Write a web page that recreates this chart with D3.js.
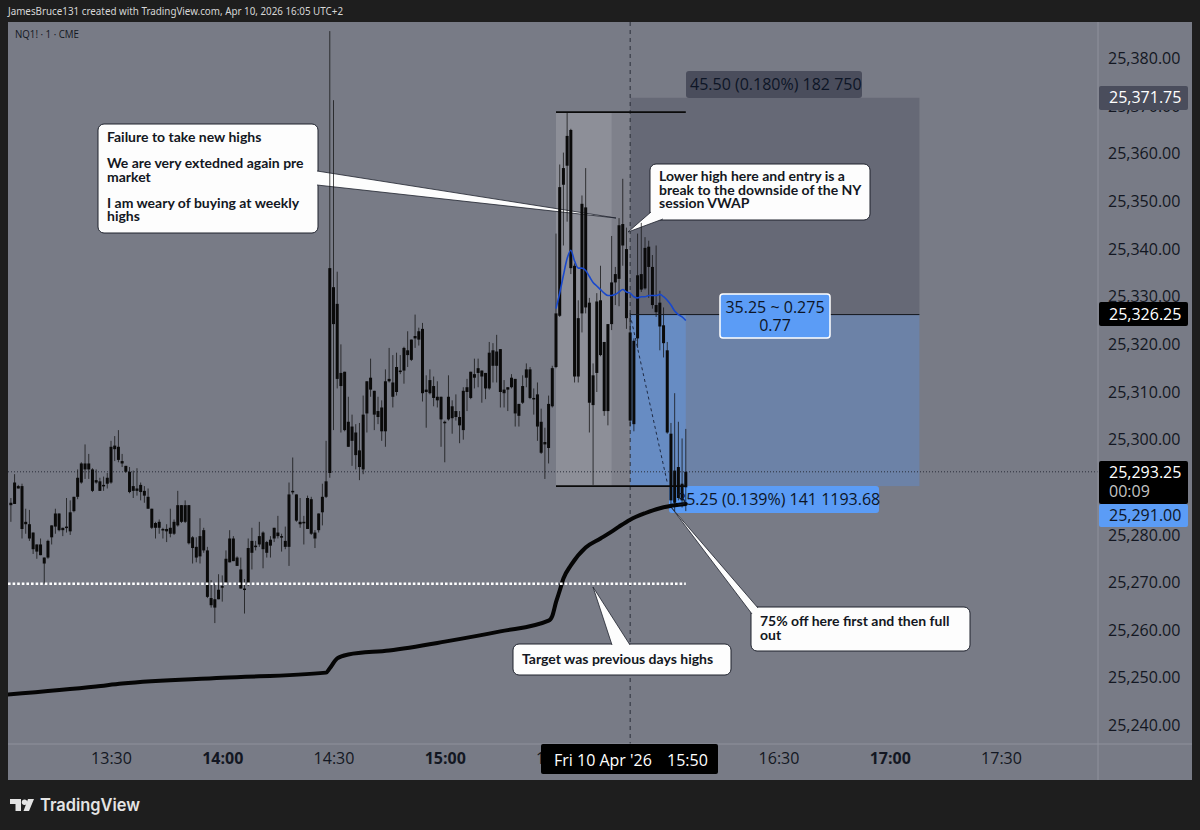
<!DOCTYPE html>
<html>
<head>
<meta charset="utf-8">
<title>NQ1! 1 CME</title>
<script src="https://cdn.jsdelivr.net/npm/d3@7"></script>
<style>
  body { margin: 0; background: #1e1e1e; }
  svg { display: block; }
  text { font-family: "Open Sans", sans-serif; }
  .note text { font-family: Lato, sans-serif; font-weight: 700; font-size: 14px; fill: #131722; }
</style>
</head>
<body>
<script>
const firstCandle = 13 * 60 + 3;

const bodyTops = [
  25286.75,25291,25290.25,25290.25,25282.75,25282.25,25280.5,25278,25278,25275.25,
  25278.75,25282,25284.5,25284.5,25281.5,25281.75,25284.75,25288,25292,25295,
  25295,25295,25293.75,25291.5,25291.25,25290.5,25292,25298.5,25298.75,25298.5,
  25295.5,25294.5,25293.25,25290.25,25289.75,25290.5,25289.25,25288,25285.5,25282.5,
  25282.75,25281.25,25281.25,25281.5,25282.75,25286.25,25286.25,25286.25,25286.25,25279.5,
  25277.5,25279.75,25281,25276.75,25266.75,25266.5,25268.5,25269.25,25275,25279.25,
  25279.25,25275.25,25272.75,25268.75,25277.25,25278.75,25277.75,25279.75,25280.5,25278.5,
  25279,25281.5,25280.5,25279.75,25278.75,25288.5,25289.25,25288.5,25282.75,25282.75,
  25287.75,25287.5,25280.5,25284.5,25288,25291.25,
  25336,25332,25328.5,25314,25314.25,25303.75,25302.75,25301.5,25297.75,25305.25,
  25312.25,25313,25310.25,25306,25306.75,25312.25,25312.75,25312,25315.25,25314.5,
  25319.25,25318.75,25321,25321.75,25322.75,25323.25,25310.5,25312.5,25311.25,25309,
  25309,25303.75,25309,25307,25306,25304.75,25310.25,25311,25314.25,25313.75,
  25315,25314.5,25314,25318.25,25318.75,25318.5,25319,25310.5,25311,25313,
  25312.75,25307.5,25311.25,25314.75,25314.75,25308.75,25309.5,25303.75,25299.5,25307.5,25315,
  25326.5,25353,25357,25363.75,25365,25336.5,25325.5,25349.5,25348.75,25328.75,
  25313.5,25329,25329.25,25320.5,25324.25,25333,25334.75,25345,25345.25,25340,
  25322.5,25320.75,25334.5,25334.75,25340.25,25340.5,25336.25,25328.25,25328.75,25324,
  25318.75,25301.25,25293.5,25294.25,25290.75,25293.25
];
const bodyBottoms = [
  25286.25,25286.5,25289.75,25281.25,25282.25,25279.25,25277,25276.5,25275.75,25274,
  25275.25,25279.5,25281.75,25281,25281,25281.5,25280.75,25285,25288,25291,
  25293.75,25293.75,25289.25,25291,25289.25,25290.25,25290.75,25291,25298,25295.75,
  25295,25293.25,25289,25289.25,25289.25,25289,25288.25,25285.5,25281.5,25281.5,
  25281.5,25281,25280.75,25280.25,25280.25,25282,25282.75,25282.75,25278.25,25277.25,
  25275.25,25275.5,25276.75,25267,25265.25,25264.75,25266.5,25269,25270,25274.25,
  25274.5,25273.5,25268.75,25268.5,25269.75,25276.25,25277.5,25278,25277,25276.25,
  25277.75,25279.25,25279.75,25279.5,25277.5,25277.5,25289,25283,25282.25,25282.5,
  25281.25,25280.25,25279.25,25281,25284.75,25288,
  25293,25324.25,25312.75,25311.25,25302,25298.5,25299.75,25296.75,25294.25,25293.75,
  25305.5,25310.5,25305.25,25304.75,25301.75,25301.75,25312.25,25309,25310,25314.25,
  25314.5,25317.75,25316.75,25321.25,25321,25309.75,25310,25309.75,25308.75,25308.25,
  25304.25,25303.5,25304.25,25304.5,25304.75,25303,25302,25310,25308.75,25313,
  25314,25313.25,25310.75,25310.75,25315.5,25315.5,25310,25309.75,25310.5,25311,
  25305.5,25305,25307.75,25313,25308.75,25308.5,25302.75,25297.25,25299,25298.25,25307,
  25315.25,25326,25353.5,25357.5,25336,25313.25,25313.25,25326.5,25327.75,25307.75,
  25307.25,25314,25317.75,25306,25306,25324.25,25333,25333.75,25340.75,25325.5,
  25304,25303.25,25321.25,25331.5,25331.75,25336.25,25328.25,25326.75,25323.75,25320.25,
  25301.5,25287.25,25286.75,25287.75,25287.25,25290
];
const wickHighs = [
  25287.75,25292.75,25290.5,25290.75,25285.5,25285.25,25280.5,25278,25279.25,25275.25,
  25279,25282,25285.5,25284.5,25281.5,25287.75,25287.25,25288,25293.75,25295.25,
  25299,25297,25294,25293.75,25292,25292.25,25293,25299.75,25300.75,25302,
  25297,25294.5,25294.25,25293.5,25294,25291,25290.25,25289.75,25285.5,25282.75,
  25283.25,25281.5,25282.25,25285.5,25283.25,25289.25,25286.25,25287.25,25286.25,25279.75,
  25279.5,25283.5,25281.5,25277.5,25270.5,25269.75,25271.75,25271.5,25276.75,25281,
  25279.75,25275.5,25275.25,25270.75,25279.25,25281.5,25278.75,25282.75,25280.75,25278.75,
  25279.75,25281.5,25284,25280.25,25281.75,25291,25296.25,25288.5,25287.75,25284,
  25288.25,25288,25281,25284.5,25290.75,25299.75,
  25385.75,25371.25,25335.25,25320,25314.25,25309,25305.25,25303.25,25303.5,25309.25,
  25312.25,25317,25310.25,25309,25308.25,25314.75,25319.25,25317.75,25318.25,25317.75,
  25319.5,25322.75,25321,25326.25,25323.5,25324.5,25313.5,25314.75,25313.25,25312.25,
  25309,25304,25313.5,25308.25,25309.5,25306,25311,25312.75,25314.25,25317,
  25317,25314.5,25314,25320.5,25320.25,25322,25319,25312.5,25311,25313.75,
  25312.75,25307.5,25313.5,25316,25315.25,25310.75,25312,25306.5,25302.5,25309.25,25315.5,
  25343.25,25357.75,25360.25,25368.75,25365.25,25337,25329.25,25351.25,25357,25329.75,
  25316,25330.75,25336.5,25320.5,25324.25,25342.75,25336.25,25346.5,25354.75,25344.5,
  25326.5,25321.25,25343.25,25345.5,25342.5,25341.75,25338.75,25340.75,25331.25,25327.75,
  25320.5,25303.5,25309.75,25303.75,25300.25,25302.25
];
const wickLows = [
  25282.75,25286.5,25289.75,25279.25,25280.25,25278.75,25276,25275,25275.75,25269.75,
  25275,25278,25280.25,25280.75,25279.75,25280.5,25280,25284.75,25287.5,25290.75,
  25291.75,25291.75,25289,25290.75,25289.25,25289.25,25289.75,25290.75,25295.5,25295.25,
  25294.25,25293,25288.75,25287.75,25288.25,25287.25,25286.75,25285.5,25281.25,25279.25,
  25280.25,25279.25,25278.5,25279.5,25280,25281.75,25282.5,25282.5,25278,25274,
  25274.25,25274,25276.25,25266.75,25264.75,25261.5,25266.5,25266,25270,25274.25,
  25274.5,25273.5,25268.75,25263.5,25269.25,25272.75,25276.75,25277.5,25273,25275.25,
  25275.25,25278.5,25279.25,25276.5,25277,25273.5,25288.5,25282.75,25281.5,25278,
  25281.25,25280,25277.25,25280.5,25282,25287.75,
  25292,25302,25310.75,25301.5,25301.75,25298.5,25294.5,25293.75,25291.5,25292.75,
  25301.5,25309,25302,25303.25,25299.75,25298.5,25312,25306.75,25309.25,25313.75,
  25311.75,25315.25,25316.5,25319.25,25319.75,25308,25302.5,25309.5,25307,25306.75,
  25298.5,25295.25,25304,25301.25,25304,25299.25,25300,25306,25308.5,25310.75,
  25311,25307.75,25308.5,25310.5,25312,25312,25306.75,25306.75,25306,25310.75,
  25302.75,25302.75,25307.5,25311,25308.5,25305.25,25299.75,25297,25291.75,25295,25306.75,
  25315,25325.75,25340.75,25345.75,25334.75,25312,25312,25322.5,25326.5,25301.5,
  25290.5,25310,25317.5,25305,25303,25323,25328.25,25328,25336.5,25323.25,
  25302.75,25301.75,25319.25,25331,25331.5,25329.75,25327.5,25325.75,25318.75,25317.25,
  25301.25,25285.75,25285,25287.25,25285.75,25285
];

// NY session VWAP, one reading per minute from 15:30
const vwapStart = 15 * 60 + 30;
const vwapValues = [
  25327.5,25330.75,25334.5,25338,25339.75,25337.5,25336,25336,25335.5,25334.25,
  25333,25332.25,25331.5,25330.75,25330.25,25330.25,25330.5,25331,25331.5,25331,
  25330.75,25330,25329.75,25330,25330,25330.25,25330.25,25330.25,25330.5,25330,
  25329.25,25328.25,25327,25326.25,25325.75,25325
];

// thick black anchored line
const anchorTimes = ["13:02","13:26","13:33","14:00","14:28","14:29","14:31","14:34","14:45","15:00","15:15","15:28","15:29","15:30","15:31","15:32","15:34","15:38","15:42","15:45","15:47","15:50","15:54","15:59","16:05"];
const anchorValues = [25246.5,25248.2,25248.8,25250,25251.1,25252,25254.1,25254.9,25255.75,25257.6,25259.75,25262,25263,25265.9,25268.3,25270.85,25273.6,25277.35,25279.25,25280.7,25281.75,25283.2,25284.55,25285.8,25286.5];

const priceTicks = [25240,25250,25260,25270,25280,25290,25300,25310,25320,25330,25340,25350,25360,25370,25380];
const timeTicks = ["13:30","14:00","14:30","15:00","15:30","16:00","16:30","17:00","17:30"];

const lastPrice = 25293.25, prevHigh = 25269.75;
const entryPrice = 25326.25, stopPrice = 25371.75, targetPrice = 25291;
const swingHigh = 25368.75, swingLow = 25290.25;

const width = 1200, height = 830;
const panel = {left: 8, top: 22, right: 1192, bottom: 780};
const plotRight = 1098, plotBottom = 744;

const toMin = s => { const [h, m] = s.split(":"); return +h * 60 + +m; };

const x = d3.scaleLinear().domain([toMin("13:30"), toMin("17:30")]).range([111, 1001]);
const y = d3.scaleLinear().domain([25240, 25380]).range([725.5, 58.5]);

const svg = d3.select("body").append("svg")
  .attr("width", width)
  .attr("height", height)
  .attr("viewBox", `0 0 ${width} ${height}`);

svg.append("rect").attr("width", width).attr("height", height).attr("fill", "#1e1e1e");

svg.append("text")
  .attr("x", 8).attr("y", 15)
  .attr("textLength", 335).attr("lengthAdjust", "spacingAndGlyphs")
  .style("font-family", "'Noto Sans', sans-serif")
  .style("font-size", "11.5px")
  .attr("fill", "#d6d6d6")
  .text("JamesBruce131 created with TradingView.com, Apr 10, 2026 16:05 UTC+2");

svg.append("rect")
  .attr("x", panel.left).attr("y", panel.top)
  .attr("width", panel.right - panel.left).attr("height", panel.bottom - panel.top)
  .attr("fill", "#787b86");

svg.append("clipPath").attr("id", "plot")
  .append("rect")
  .attr("x", panel.left).attr("y", panel.top)
  .attr("width", plotRight - panel.left).attr("height", plotBottom - panel.top);

const g = svg.append("g").attr("clip-path", "url(#plot)");

// zones of the position tool and the highlighted range
function zone(t0, t1, p0, p1, fill) {
  g.append("rect")
    .attr("x", x(toMin(t0))).attr("width", x(toMin(t1)) - x(toMin(t0)))
    .attr("y", y(p0)).attr("height", y(p1) - y(p0))
    .attr("fill", fill);
}
zone("15:50", "17:08", stopPrice, entryPrice, "#666976");
zone("15:50", "17:08", entryPrice, swingLow, "#6c82a7");
zone("15:30", "15:50", swingHigh, swingLow, "#7f818b");
zone("15:30", "15:45", swingHigh, swingLow, "#8d8f98");
zone("15:50", "16:05", entryPrice, swingLow, "#678cc3");

// 45.50 and 35.25 label backgrounds sit under the candles
g.append("rect").attr("x", 686).attr("y", 71).attr("width", 176).attr("height", 27).attr("rx", 3).attr("fill", "#4a4d5c");
g.append("rect").attr("x", 669).attr("y", y(swingLow)).attr("width", 210).attr("height", 27).attr("rx", 3).attr("fill", "#5b9cf6");

// crosshair and last price line
g.append("line")
  .attr("x1", x(toMin("15:50"))).attr("x2", x(toMin("15:50")))
  .attr("y1", panel.top).attr("y2", plotBottom)
  .attr("stroke", "#2a2e39").attr("stroke-width", 1).attr("stroke-dasharray", "4 4");
g.append("line")
  .attr("x1", panel.left).attr("x2", plotRight)
  .attr("y1", y(lastPrice)).attr("y2", y(lastPrice))
  .attr("stroke", "#2a2e39").attr("stroke-width", 1).attr("stroke-dasharray", "1 2");

// callouts
const notes = [
  {box: [98, 124, 220, 109], tail: [[317, 171], [616, 218], [317, 185]], lines: ["Failure to take new highs", "", "We are very extedned again pre", "market", "", "I am weary of buying at weekly", "highs"], tx: 107, ty: 142, lh: 13.2},
  {box: [650, 164, 220, 56], tail: [[651, 212], [628, 232], [663, 219]], lines: ["Lower high here and entry is a", "break to the downside of the NY", "session VWAP"], tx: 659, ty: 181, lh: 13.5},
  {box: [513, 644, 218, 31], tail: [[612, 645], [593, 587], [630, 645]], lines: ["Target was previous days highs"], tx: 522, ty: 664, lh: 14},
  {box: [751, 607, 219, 44], tail: [[752, 614], [671, 507], [758, 608]], lines: ["75% off here first and then full", "out"], tx: 760, ty: 626, lh: 13.5}
];
const note = g.selectAll("g.note").data(notes).join("g").attr("class", "note");
note.append("rect")
  .attr("x", d => d.box[0]).attr("y", d => d.box[1])
  .attr("width", d => d.box[2]).attr("height", d => d.box[3])
  .attr("rx", 6)
  .attr("fill", "#fdfdfd").attr("stroke", "#1e222d").attr("stroke-width", 1);
note.append("path")
  .attr("d", d => d3.line()(d.tail))
  .attr("fill", "#fdfdfd").attr("stroke", "#1e222d").attr("stroke-width", 0.8);
note.selectAll("text")
  .data(d => d.lines.map((t, i) => ({t, x: d.tx, y: d.ty + i * d.lh})))
  .join("text")
  .attr("x", d => d.x).attr("y", d => d.y)
  .text(d => d.t);

// candles
const candleIdx = d3.range(bodyTops.length);
const bodyW = 3;
g.append("g").selectAll("line").data(candleIdx).join("line")
  .attr("x1", i => x(firstCandle + i)).attr("x2", i => x(firstCandle + i))
  .attr("y1", i => y(wickHighs[i])).attr("y2", i => y(wickLows[i]))
  .attr("stroke", "#111").attr("stroke-opacity", 0.75).attr("stroke-width", 1);
g.append("g").selectAll("rect").data(candleIdx).join("rect")
  .attr("x", i => x(firstCandle + i) - bodyW / 2)
  .attr("width", bodyW)
  .attr("y", i => y(bodyTops[i]))
  .attr("height", i => Math.max(1.5, y(bodyBottoms[i]) - y(bodyTops[i])))
  .attr("fill", "#0a0a0a");

// swing range lines
[swingHigh, swingLow].forEach(p => {
  g.append("line")
    .attr("x1", x(toMin("15:30"))).attr("x2", x(toMin("16:05")))
    .attr("y1", y(p)).attr("y2", y(p))
    .attr("stroke", "#0a0a0a").attr("stroke-width", 1.6);
});
g.append("line")
  .attr("x1", x(toMin("15:50"))).attr("x2", x(toMin("17:08")))
  .attr("y1", y(entryPrice)).attr("y2", y(entryPrice))
  .attr("stroke", "#14161c").attr("stroke-width", 1);
g.append("line")
  .attr("x1", x(toMin("15:50"))).attr("x2", x(toMin("16:00")))
  .attr("y1", y(entryPrice)).attr("y2", y(targetPrice))
  .attr("stroke", "#1e2a44").attr("stroke-width", 1).attr("stroke-dasharray", "3 3");

// vwap
const lineByMin = d3.line().x(d => x(d[0])).y(d => y(d[1]));
g.append("path")
  .datum(vwapValues.map((v, i) => [vwapStart + i, v]))
  .attr("d", lineByMin.curve(d3.curveMonotoneX))
  .attr("fill", "none").attr("stroke", "#1848cc").attr("stroke-width", 1.6);

// anchored line
g.append("path")
  .datum(anchorTimes.map((t, i) => [toMin(t), anchorValues[i]]))
  .attr("d", lineByMin.curve(d3.curveMonotoneX))
  .attr("fill", "none").attr("stroke", "#050505").attr("stroke-width", 4)
  .attr("stroke-linejoin", "round").attr("stroke-linecap", "round");

// previous day high
g.append("line")
  .attr("x1", panel.left).attr("x2", x(toMin("16:05")))
  .attr("y1", y(prevHigh)).attr("y2", y(prevHigh))
  .attr("stroke", "#fff").attr("stroke-width", 2.4).attr("stroke-dasharray", "2.6 2");

// tool labels
const labelStyle = s => s.style("font-size", "16px").attr("fill", "#0d1526");
g.append("text").attr("x", 690).attr("y", 90).call(labelStyle).text("45.50 (0.180%) 182 750");
g.append("text").attr("x", 677).attr("y", y(swingLow) + 19).call(labelStyle).text("35.25 (0.139%) 141 1193.68");
g.append("rect").attr("x", 720).attr("y", 294).attr("width", 110).attr("height", 44).attr("rx", 3)
  .attr("fill", "#5b9cf6").attr("stroke", "#fff").attr("stroke-width", 1.5);
g.append("text").attr("x", 775).attr("y", 313).attr("text-anchor", "middle").call(labelStyle).text("35.25 ~ 0.275");
g.append("text").attr("x", 775).attr("y", 331).attr("text-anchor", "middle").call(labelStyle).text("0.77");

svg.append("text").attr("x", 15).attr("y", 38)
  .attr("textLength", 64).attr("lengthAdjust", "spacingAndGlyphs")
  .style("font-size", "10.5px").attr("fill", "#131722").text("NQ1! · 1 · CME");

// axes
const yAxis = svg.append("g")
  .attr("transform", `translate(${plotRight},0)`)
  .call(d3.axisRight(y).tickValues(priceTicks).tickFormat(d3.format(",.2f")).tickSize(0).tickPadding(10));
const xAxis = svg.append("g")
  .attr("transform", `translate(0,${plotBottom})`)
  .call(d3.axisBottom(x).tickValues(timeTicks.map(toMin))
    .tickFormat(m => timeTicks.find(t => toMin(t) === m)).tickSize(0).tickPadding(9));
[yAxis, xAxis].forEach(a => {
  a.select(".domain").remove();
  a.selectAll("text").style("font-size", "16px").attr("fill", "#131722").style("font-family", "'Open Sans', sans-serif");
});
xAxis.selectAll("text").style("font-weight", m => m % 60 === 0 ? 700 : 400);

svg.append("line").attr("x1", plotRight).attr("x2", plotRight).attr("y1", panel.top).attr("y2", panel.bottom)
  .attr("stroke", "#8f929c");
svg.append("line").attr("x1", panel.left).attr("x2", panel.right).attr("y1", plotBottom).attr("y2", plotBottom)
  .attr("stroke", "#8f929c");

// price axis labels
function priceLabel(top, h, fill, rows) {
  svg.append("rect").attr("x", 1099).attr("y", top).attr("width", 89).attr("height", h).attr("rx", 2).attr("fill", fill);
  rows.forEach(r => {
    svg.append("text").attr("x", 1109).attr("y", top + r.dy)
      .style("font-size", "16px").attr("fill", r.color).text(r.text);
  });
}
priceLabel(86, 24, "#4a4d5c", [{dy: 17, color: "#fff", text: d3.format(",.2f")(stopPrice)}]);
priceLabel(302, 24, "#000", [{dy: 18, color: "#fff", text: d3.format(",.2f")(entryPrice)}]);
priceLabel(461, 43, "#000", [{dy: 17, color: "#fff", text: d3.format(",.2f")(lastPrice)}, {dy: 36, color: "#c4c4c4", text: "00:09"}]);
priceLabel(504, 23, "#5b9cf6", [{dy: 17, color: "#0d1526", text: d3.format(",.2f")(targetPrice)}]);

// crosshair date label
svg.append("rect").attr("x", 541).attr("y", 744).attr("width", 177).attr("height", 30).attr("rx", 2).attr("fill", "#000");
svg.append("text").attr("x", 554).attr("y", 766).style("font-size", "16px").attr("fill", "#fff").text("Fri 10 Apr '26");
svg.append("text").attr("x", 667).attr("y", 766).style("font-size", "16px").attr("fill", "#fff").text("15:50");

// watermark
const logo = svg.append("g").attr("fill", "#e4e4e4");
logo.append("path").attr("d", "M10 799H21V811H15.5V804H10Z");
logo.append("circle").attr("cx", 24.5).attr("cy", 802.2).attr("r", 2.7);
logo.append("path").attr("d", "M28 799H34L29 811H23.5Z");
svg.append("text").attr("x", 40).attr("y", 811)
  .attr("textLength", 100).attr("lengthAdjust", "spacingAndGlyphs")
  .style("font-family", "Inter, sans-serif").style("font-weight", 600).style("font-size", "17px")
  .attr("fill", "#e4e4e4").text("TradingView");
</script>
</body>
</html>
